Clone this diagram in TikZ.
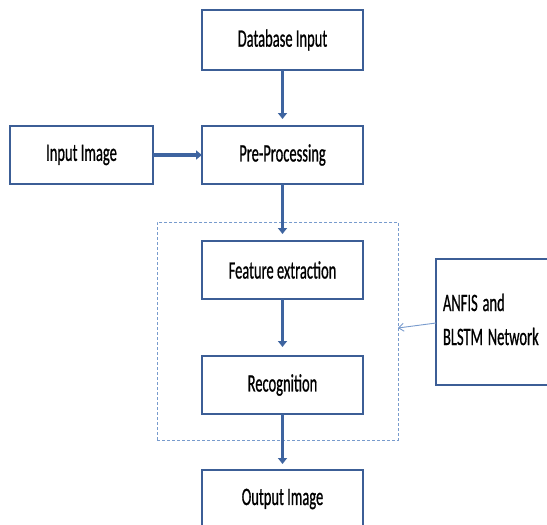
\documentclass[tikz,border=0pt]{standalone}
\usepackage{fontspec}
\setmainfont{Carlito}[FakeBold=1]
\usepackage{graphicx}
\usetikzlibrary{arrows.meta,positioning}
\definecolor{boxblue}{RGB}{60,94,150}
\definecolor{arrblue}{RGB}{62,100,160}
\definecolor{lineblue}{RGB}{120,155,205}
\newcommand{\squeezed}[1]{\scalebox{0.58}[1]{#1}}

\begin{document}
\begin{tikzpicture}[x=1pt, y=-1pt, node distance=56pt and 49pt,
  box/.style={draw=boxblue, line width=2.6pt, fill=white, minimum width=161pt, minimum height=58pt, inner sep=0pt, outer sep=0pt, font=\fontsize{25}{30}\selectfont},
  group/.style={draw=lineblue, line width=0.9pt, densely dashed, minimum width=241pt, minimum height=218pt, inner sep=0pt, outer sep=0pt},
  arr/.style={-{Triangle[width=9pt,length=6pt]}, draw=arrblue, line width=3.6pt},
  gap/.style={shorten >=7pt},
  thinarr/.style={-{Straight Barb[width=8pt,length=5pt]}, draw=lineblue, line width=0.9pt}]
\clip (0,0) rectangle (547,525);
\fill[white] (0,0) rectangle (547,525);
\node[group] (grp) at (277.5,331) {};
\node[box, minimum height=60pt] (db) at (282.5,40) {\squeezed{Database Input}};
\node[box, below=56pt of db] (pp) {\squeezed{Pre-Processing}};
\node[box, minimum width=143pt, left=49pt of pp] (img) {\squeezed{Input Image}};
\node[box, below=57pt of pp] (fe) {\squeezed{Feature extraction}};
\node[box, below=57pt of fe] (rec) {\squeezed{Recognition}};
\node[box, below=56pt of rec] (out) {\squeezed{Output Image}};
\node[box, minimum width=140pt, minimum height=126pt, anchor=north west, align=left, text width=126pt] (anfis) at (436,259) {\squeezed{\begin{tabular}{@{}l@{}}ANFIS and\\[4pt]BLSTM Network\end{tabular}}};
\draw[arr, gap] (db) -- (pp);
\draw[arr] (img) -- (pp);
\draw[arr, gap] (pp) -- (fe);
\draw[arr, shorten >=9pt] (fe) -- (rec);
\draw[arr, shorten >=6pt] (rec) -- (out);
\draw[thinarr] ([yshift=-1pt]anfis.west) -- ([yshift=3pt]grp.east);
\end{tikzpicture}
\end{document}
